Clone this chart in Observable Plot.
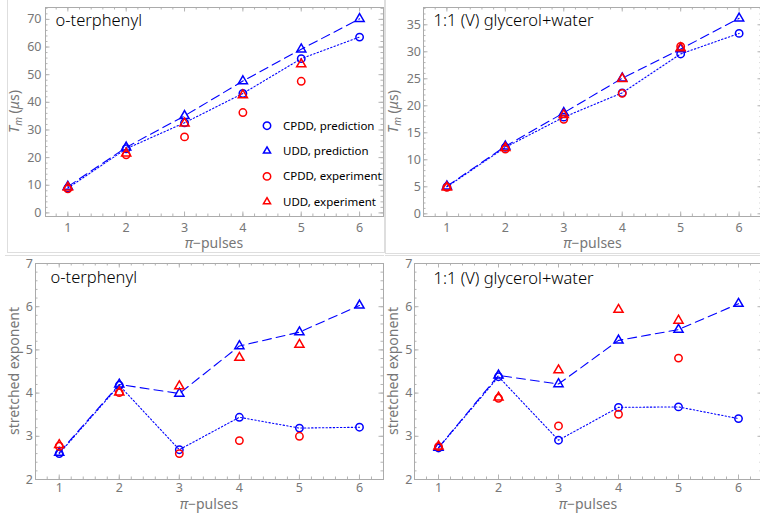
<!DOCTYPE html>
<html><head><meta charset="utf-8">
<script src="https://cdn.jsdelivr.net/npm/d3@7"></script>
<script src="https://cdn.jsdelivr.net/npm/@observablehq/plot@0.6"></script>
<style>
html,body{margin:0;padding:0;background:#fff;}
body{width:760px;height:513px;overflow:hidden;position:relative;font-family:"Noto Sans",sans-serif;}
.box{position:absolute;border:1px solid #dedede;box-sizing:border-box;}
.hline{position:absolute;height:0;border-top:1px solid #dedede;}
</style></head><body>
<script>
// ---- data ----
const pulses = [1, 2, 3, 4, 5, 6];
const xTicks = [1, 2, 3, 4, 5, 6];
const seriesNames = ["CPDD, prediction", "UDD, prediction", "CPDD, experiment", "UDD, experiment"];
const titles = ["o-terphenyl", "1:1 (V) glycerol+water"];
const xLabelParts = ["π", "−pulses"];
const yLabelExp = "stretched exponent";

// Tm, o-terphenyl
const otpTmCpddPred = [9.0, 23.2, 32.6, 43.2, 55.8, 63.6];
const otpTmUddPred  = [9.5, 23.7, 35.1, 47.7, 59.2, 70.2];
const otpTmCpddExp  = [8.7, 21.0, 27.5, 36.3, 47.6];
const otpTmUddExp   = [9.2, 21.5, 32.4, 42.6, 53.8];
const otpTmTicks = [0, 10, 20, 30, 40, 50, 60, 70];

// Tm, glycerol+water
const glyTmCpddPred = [5.0, 12.3, 17.9, 22.4, 29.6, 33.4];
const glyTmUddPred  = [5.1, 12.5, 18.7, 25.1, 30.5, 36.2];
const glyTmCpddExp  = [4.9, 12.0, 17.5, 22.3, 31.0];
const glyTmUddExp   = [4.9, 12.2, 18.3, 25.0, 30.7];
const glyTmTicks = [0, 5, 10, 15, 20, 25, 30, 35];

// stretched exponent, o-terphenyl
const otpExpCpddPred = [2.60, 4.18, 2.69, 3.44, 3.19, 3.21];
const otpExpUddPred  = [2.62, 4.20, 3.99, 5.09, 5.41, 6.03];
const otpExpCpddExp  = [2.77, 4.01, 2.60, 2.90, 3.00];
const otpExpUddExp   = [2.80, 4.02, 4.16, 4.82, 5.12];

// stretched exponent, glycerol+water
const glyExpCpddPred = [2.73, 4.38, 2.91, 3.67, 3.68, 3.41];
const glyExpUddPred  = [2.74, 4.41, 4.21, 5.22, 5.47, 6.07];
const glyExpCpddExp  = [2.76, 3.88, 3.24, 3.51, 4.81];
const glyExpUddExp   = [2.77, 3.90, 4.53, 5.93, 5.68];
const expTicks = [2, 3, 4, 5, 6, 7];

const BLUE = "#0000ff", RED = "#ff0000", FRAME = "#ababab", TICK = "#b4b4b4", GRAY = "#777";
const CIRC_R = 3.7, TRI_R = 3.4;

function pts(arr) { return arr.map((v, i) => ({x: pulses[i], y: v})); }

function yLabelMark(cfg) {
  return () => {
    const cy = (cfg.mT + cfg.height - cfg.mB) / 2;
    const t = d3.create("svg:text")
      .attr("transform", `translate(${cfg.yLabelX},${cy}) rotate(-90)`)
      .attr("text-anchor", "middle").attr("fill", GRAY).attr("font-size", 14);
    if (cfg.yLabel === "Tm") {
      t.append("tspan").attr("font-style", "italic").text("T");
      t.append("tspan").attr("font-style", "italic").attr("font-size", 10).attr("dy", 3).text("m");
      t.append("tspan").attr("dy", -3).text(" (");
      t.append("tspan").attr("font-style", "italic").text("μ");
      t.append("tspan").text("s)");
    } else {
      t.text(cfg.yLabel);
    }
    return t.node();
  };
}

function xLabelMark(cfg) {
  return () => {
    const cx = (cfg.mL + cfg.width - cfg.mR) / 2;
    const by = cfg.height - cfg.mB + cfg.xLabelDy;
    const t = d3.create("svg:text")
      .attr("x", cx).attr("y", by)
      .attr("text-anchor", "middle").attr("fill", GRAY).attr("font-size", 14);
    t.append("tspan").attr("font-style", "italic").text(xLabelParts[0]);
    t.append("tspan").text(xLabelParts[1]);
    return t.node();
  };
}

function makePanel(cfg) {
  const pw = cfg.width - cfg.mL - cfg.mR;
  const ph = cfg.height - cfg.mT - cfg.mB;
  const [x0, x1] = cfg.xDomain, [y0, y1] = cfg.yDomain;
  const xMinor = d3.range(1, 40).map(i => i / 5).filter(d => d > x0 + 0.02 && d < x1 - 0.02);
  const yMinor = d3.range(0, 200).map(i => +(i * cfg.yMinorStep).toFixed(3)).filter(d => d > y0 + 0.01 && d < y1 - 0.01);
  const yMajor = cfg.yTicks.filter(d => d > y0 && d < y1);
  const maj = 4.5, min = 2.5;
  const ts = {stroke: TICK, strokeWidth: 1};
  const fmt = d => String(d);
  const marks = [
    Plot.ruleX(xMinor, {...ts, insetTop: ph - min}),
    Plot.ruleX(xMinor, {...ts, insetBottom: ph - min}),
    Plot.ruleX(xTicks, {...ts, insetTop: ph - maj}),
    Plot.ruleX(xTicks, {...ts, insetBottom: ph - maj}),
    Plot.ruleY(yMinor, {...ts, insetRight: pw - min}),
    Plot.ruleY(yMinor, {...ts, insetLeft: pw - min}),
    Plot.ruleY(yMajor, {...ts, insetRight: pw - maj}),
    Plot.ruleY(yMajor, {...ts, insetLeft: pw - maj}),
    Plot.frame({stroke: FRAME}),
    Plot.axisX({ticks: xTicks, tickFormat: fmt, tickSize: 0, tickPadding: cfg.xPad, label: null, fontSize: 12.5}),
    Plot.axisY({ticks: cfg.yTicks, tickFormat: fmt, tickSize: 0, tickPadding: cfg.yPad, label: null, fontSize: 12.5}),
    Plot.line(pts(cfg.s[0]), {x: "x", y: "y", stroke: BLUE, strokeWidth: 1.1, strokeDasharray: "1.4,2.2"}),
    Plot.line(pts(cfg.s[1]), {x: "x", y: "y", stroke: BLUE, strokeWidth: 1.1, strokeDasharray: "9,5"}),
    Plot.dot(pts(cfg.s[0]), {x: "x", y: "y", stroke: BLUE, strokeWidth: 1.5, r: CIRC_R, fill: "none"}),
    Plot.dot(pts(cfg.s[1]), {x: "x", y: "y", stroke: BLUE, strokeWidth: 1.5, r: TRI_R, symbol: "triangle", fill: "none"}),
    Plot.dot(pts(cfg.s[2]), {x: "x", y: "y", stroke: RED, strokeWidth: 1.5, r: CIRC_R, fill: "none"}),
    Plot.dot(pts(cfg.s[3]), {x: "x", y: "y", stroke: RED, strokeWidth: 1.5, r: TRI_R, symbol: "triangle", fill: "none"}),
    Plot.text([cfg.title], {text: d => d, frameAnchor: "top-left", dx: cfg.titleDx, dy: cfg.titleDy, lineAnchor: "bottom", textAnchor: "start", fontSize: 16.5, fontWeight: 300, fill: "#000"}),
    xLabelMark(cfg),
    yLabelMark(cfg)
  ];
  const svg = Plot.plot({
    width: cfg.width, height: cfg.height,
    marginLeft: cfg.mL, marginRight: cfg.mR, marginTop: cfg.mT, marginBottom: cfg.mB,
    x: {domain: cfg.xDomain},
    y: {domain: cfg.yDomain},
    style: {fontFamily: "Noto Sans", fontSize: "12.5px", color: GRAY, background: "transparent", overflow: "visible"},
    marks
  });
  svg.style.position = "absolute";
  svg.style.left = cfg.left + "px";
  svg.style.top = cfg.top + "px";
  svg.style.maxWidth = "none";
  document.body.appendChild(svg);
}

// decorative panel borders
function addDiv(cls, l, t, w, h) {
  const d = document.createElement("div");
  d.className = cls;
  d.style.left = l + "px"; d.style.top = t + "px"; d.style.width = w + "px";
  if (h != null) d.style.height = h + "px";
  document.body.appendChild(d);
}
addDiv("box", 7, -1, 378, 254);
addDiv("box", 385, -1, 380, 255);
addDiv("hline", 5, 255, 379, null);
addDiv("hline", 385, 255, 380, null);

makePanel({left: 0, top: 0, width: 384, height: 256, mL: 45, mR: 1, mT: 7, mB: 40,
  xDomain: [0.617, 6.41], yDomain: [-1.3, 74.3], yTicks: otpTmTicks, yMinorStep: 2,
  xPad: 6.3, yPad: 4, title: titles[0], titleDx: 10, titleDy: 18.5, xLabelDy: 32,
  yLabel: "Tm", yLabelX: 18.5,
  s: [otpTmCpddPred, otpTmUddPred, otpTmCpddExp, otpTmUddExp]});

makePanel({left: 385, top: 0, width: 379, height: 256, mL: 38, mR: 2, mT: 7, mB: 40,
  xDomain: [0.6, 6.4], yDomain: [-0.5, 38.2], yTicks: glyTmTicks, yMinorStep: 1,
  xPad: 6.3, yPad: 2.5, title: titles[1], titleDx: 10, titleDy: 18.7, xLabelDy: 32,
  yLabel: "Tm", yLabelX: 12.5,
  s: [glyTmCpddPred, glyTmUddPred, glyTmCpddExp, glyTmUddExp]});

makePanel({left: 0, top: 256, width: 384, height: 257, mL: 35, mR: 1, mT: 7, mB: 34,
  xDomain: [0.605, 6.4], yDomain: [2, 7], yTicks: expTicks, yMinorStep: 0.2,
  xPad: 3.4, yPad: 2.5, title: titles[0], titleDx: 15, titleDy: 19.4, xLabelDy: 29.5,
  yLabel: yLabelExp, yLabelX: 18.5,
  s: [otpExpCpddPred, otpExpUddPred, otpExpCpddExp, otpExpUddExp]});

makePanel({left: 385, top: 256, width: 379, height: 257, mL: 29, mR: 2, mT: 7, mB: 34,
  xDomain: [0.6, 6.4], yDomain: [2, 7], yTicks: expTicks, yMinorStep: 0.2,
  xPad: 3.4, yPad: 2, title: titles[1], titleDx: 19, titleDy: 20.5, xLabelDy: 29.5,
  yLabel: yLabelExp, yLabelX: 12.8,
  s: [glyExpCpddPred, glyExpUddPred, glyExpCpddExp, glyExpUddExp]});

// legend (top-left panel)
(function legend() {
  const lg = d3.select(document.body).append("svg")
    .attr("width", 130).attr("height", 104)
    .style("position", "absolute").style("left", "255px").style("top", "110px")
    .style("font-family", "Noto Sans").style("font-size", "11.5px");
  const styles = [
    {stroke: BLUE, sym: d3.symbolCircle, r: CIRC_R},
    {stroke: BLUE, sym: d3.symbolTriangle2, r: TRI_R},
    {stroke: RED, sym: d3.symbolCircle, r: CIRC_R},
    {stroke: RED, sym: d3.symbolTriangle2, r: TRI_R}
  ];
  seriesNames.forEach((name, i) => {
    const cy = 15.7 + i * 25.35;
    const st = styles[i];
    lg.append("path")
      .attr("d", d3.symbol(st.sym, Math.PI * st.r * st.r)())
      .attr("transform", `translate(12,${cy})`)
      .attr("fill", "none").attr("stroke", st.stroke).attr("stroke-width", 1.5);
    lg.append("text").attr("x", 28).attr("y", cy).attr("dy", "0.35em").attr("fill", "#000").text(name);
  });
})();
</script>
</body></html>
